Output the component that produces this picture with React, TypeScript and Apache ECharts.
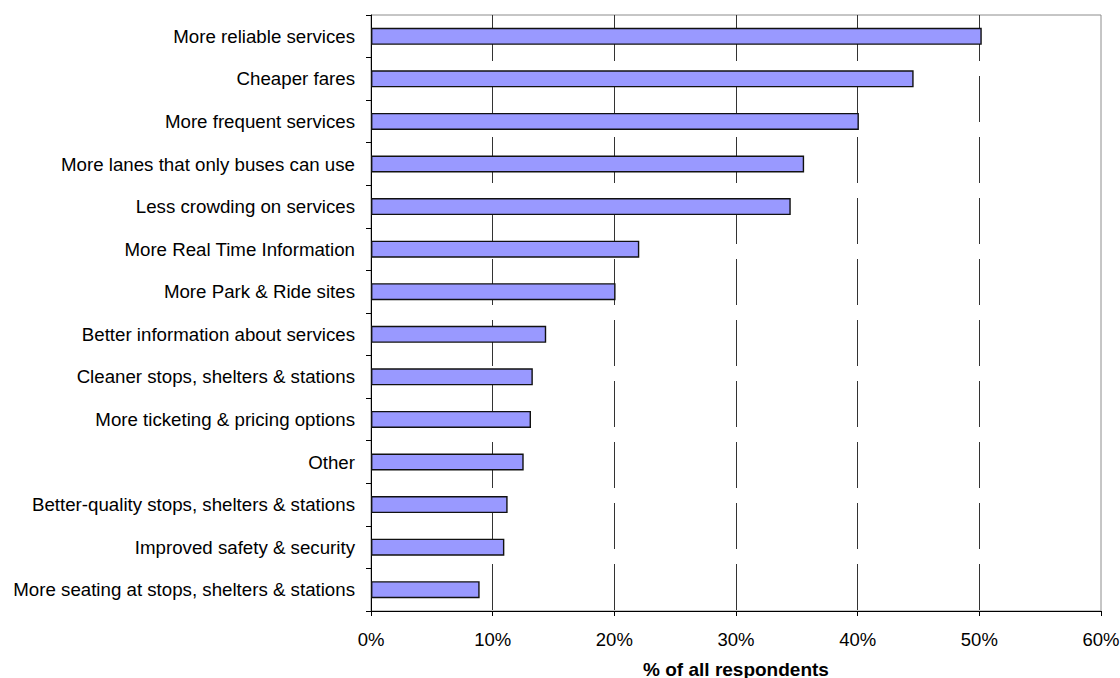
import React, { useEffect, useRef } from "react";
import * as echarts from "echarts";

const categories = [
  "More reliable services",
  "Cheaper fares",
  "More frequent services",
  "More lanes that only buses can use",
  "Less crowding on services",
  "More Real Time Information",
  "More Park & Ride sites",
  "Better information about services",
  "Cleaner stops, shelters & stations",
  "More ticketing & pricing options",
  "Other",
  "Better-quality stops, shelters & stations",
  "Improved safety & security",
  "More seating at stops, shelters & stations",
];

const values = [50.2, 44.6, 40.1, 35.6, 34.5, 22.05, 20.1, 14.4, 13.3, 13.15, 12.55, 11.23, 10.96, 8.93];

const xTitle = "% of all respondents";

export default function App() {
  const ref = useRef<HTMLDivElement>(null);
  useEffect(() => {
    if (!ref.current) return;
    const chart = echarts.init(ref.current, null, { renderer: "svg" });
    const font = "'Liberation Sans', Arial, sans-serif";
    chart.setOption({
      animation: false,
      backgroundColor: "#ffffff",
      grid: {
        left: 371,
        right: 19,
        top: 15,
        bottom: 67,
        containLabel: false,
        outerBoundsMode: "none",
        show: true,
        borderColor: "#8c8c8c",
        borderWidth: 1,
        backgroundColor: "transparent",
      },
      graphic: [
        {
          type: "text",
          x: 736,
          y: 669,
          style: {
            text: xTitle,
            font: `bold 19px ${font}`,
            fill: "#000",
            align: "center",
            verticalAlign: "middle",
          },
        },
      ],
      xAxis: {
        type: "value",
        min: 0,
        max: 60,
        interval: 10,
        axisLine: { show: true, lineStyle: { color: "#000", width: 1 } },
        axisTick: { show: true, length: 5, lineStyle: { color: "#000" } },
        axisLabel: { formatter: "{value}%", fontFamily: font, fontSize: 18.5, color: "#000", margin: 19 },
        splitLine: {
          show: true,
          showMinLine: false,
          showMaxLine: false,
          lineStyle: { color: "#333", width: 1, type: [46, 15] },
        },
      },
      yAxis: {
        type: "category",
        data: categories,
        inverse: true,
        axisLine: { show: true, lineStyle: { color: "#000", width: 1 } },
        axisTick: { show: true, length: 5, lineStyle: { color: "#000" } },
        axisLabel: { fontFamily: font, fontSize: 18.7, color: "#000", margin: 16 },
        splitLine: { show: false },
      },
      series: [
        {
          type: "bar",
          data: values,
          barWidth: 17,
          itemStyle: { color: "#9999FF", borderColor: "#111", borderWidth: 1.4 },
        },
      ],
    });
    return () => chart.dispose();
  }, []);
  return (
    <div
      ref={ref}
      style={{ position: "fixed", left: 0, top: 0, width: 1120, height: 678 }}
    />
  );
}
